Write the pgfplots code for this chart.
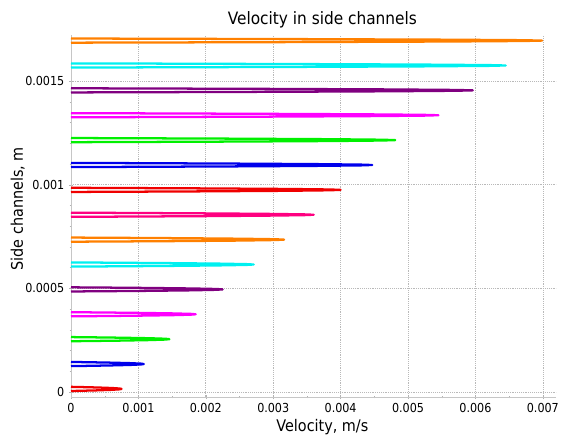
\documentclass[border=0pt]{standalone}
\usepackage{pgfplots}
\pgfplotsset{compat=1.18}
\usepackage{fontspec}
\setmainfont{DejaVu Sans Condensed}
\definecolor{cOrange}{RGB}{255,128,0}
\definecolor{cPurple}{RGB}{128,0,128}
\definecolor{cPink}{RGB}{255,0,128}
\definecolor{cGreen}{RGB}{0,240,0}
\definecolor{cBlue}{RGB}{0,0,235}
\definecolor{cCyan}{RGB}{0,240,240}
\definecolor{cMagenta}{RGB}{255,0,255}
\definecolor{cRed}{RGB}{240,0,0}
\begin{document}
\begin{tikzpicture}
\useasboundingbox (-53.25pt,-28.5pt) rectangle (374.25pt,297.75pt);
\begin{axis}[
  at={(0,0)}, anchor=south west,
  scale only axis, width=364pt, height=271.5pt,
  xmin=0, xmax=0.0072, ymin=-0.000024, ymax=0.001722,
  axis x line=bottom, axis y line=left,
  axis line style={-, gray!45},
  tick style={gray!60},
  major tick length=3pt, minor tick length=2pt,
  xtick={0,0.001,0.002,0.003,0.004,0.005,0.006,0.007},
  ytick={0,0.0005,0.001,0.0015},
  minor x tick num=1, minor y tick num=4,
  scaled ticks=false,
  xticklabel style={/pgf/number format/fixed,/pgf/number format/precision=4},
  yticklabel style={/pgf/number format/fixed,/pgf/number format/precision=4},
  /pgf/number format/assume math mode=true,
  ticklabel style={font=\fontsize{9.3}{10}\selectfont, text=black},
  grid=major,
  major grid style={densely dotted, gray!55, line width=0.5pt},
  title={Velocity in side channels},
  title style={at={(axis description cs:0.518,1)}, anchor=base, yshift=1.5pt, font=\fontsize{12.8}{14}\selectfont},
  xlabel={Velocity, m/s},
  ylabel={Side channels, m},
  every axis x label/.style={at={(axis description cs:0.518,0)}, anchor=base, yshift=-25.5pt, font=\fontsize{12}{13}\selectfont},
  every axis y label/.style={at={(axis description cs:0,0.52)}, anchor=center, rotate=90, yshift=40pt, font=\fontsize{12}{13}\selectfont},
  every axis plot/.append style={line width=1.7pt, line join=round, mark=none},
  clip=false,
]
% k=0 red
\addplot[cRed] coordinates {(0,5e-6) (0.0001425,6e-6) (0.0003825,8e-6) (0.0006,10.5e-6) (0.00072,13e-6) (0.00075,15e-6) (0.00072,17e-6) (0.0006,19.5e-6) (0.0003825,22e-6) (0.0001425,24e-6) (0,25e-6)};
% k=1 blue
\addplot[cBlue] coordinates {(0,125e-6) (0.0002052,126e-6) (0.0005508,128e-6) (0.000864,130.5e-6) (0.0010368,133e-6) (0.00108,135e-6) (0.0010368,137e-6) (0.000864,139.5e-6) (0.0005508,142e-6) (0.0002052,144e-6) (0,145e-6)};
% k=2 green
\addplot[cGreen] coordinates {(0,245e-6) (0.0002774,246e-6) (0.0007446,248e-6) (0.001168,250.5e-6) (0.0014016,253e-6) (0.00146,255e-6) (0.0014016,257e-6) (0.001168,259.5e-6) (0.0007446,262e-6) (0.0002774,264e-6) (0,265e-6)};
% k=3 magenta
\addplot[cMagenta] coordinates {(0,365e-6) (0.0003515,366e-6) (0.0009435,368e-6) (0.00148,370.5e-6) (0.001776,373e-6) (0.00185,375e-6) (0.001776,377e-6) (0.00148,379.5e-6) (0.0009435,382e-6) (0.0003515,384e-6) (0,385e-6)};
% k=4 purple
\addplot[cPurple] coordinates {(0,485e-6) (0.0004275,486e-6) (0.0011475,488e-6) (0.0018,490.5e-6) (0.00216,493e-6) (0.00225,495e-6) (0.00216,497e-6) (0.0018,499.5e-6) (0.0011475,502e-6) (0.0004275,504e-6) (0,505e-6)};
% k=5 cyan
\addplot[cCyan] coordinates {(0,605e-6) (0.0005149,606e-6) (0.0013821,608e-6) (0.002168,610.5e-6) (0.0026016,613e-6) (0.00271,615e-6) (0.0026016,617e-6) (0.002168,619.5e-6) (0.0013821,622e-6) (0.0005149,624e-6) (0,625e-6)};
% k=6 orange
\addplot[cOrange] coordinates {(0,725e-6) (0.0006004,726e-6) (0.0016116,728e-6) (0.002528,730.5e-6) (0.0030336,733e-6) (0.00316,735e-6) (0.0030336,737e-6) (0.002528,739.5e-6) (0.0016116,742e-6) (0.0006004,744e-6) (0,745e-6)};
% k=7 pink
\addplot[cPink] coordinates {(0,845e-6) (0.000684,846e-6) (0.001836,848e-6) (0.00288,850.5e-6) (0.003456,853e-6) (0.0036,855e-6) (0.003456,857e-6) (0.00288,859.5e-6) (0.001836,862e-6) (0.000684,864e-6) (0,865e-6)};
% k=8 red
\addplot[cRed] coordinates {(0,965e-6) (0.00076,966e-6) (0.00204,968e-6) (0.0032,970.5e-6) (0.00384,973e-6) (0.004,975e-6) (0.00384,977e-6) (0.0032,979.5e-6) (0.00204,982e-6) (0.00076,984e-6) (0,985e-6)};
% k=9 blue
\addplot[cBlue] coordinates {(0,1085e-6) (0.0008493,1086e-6) (0.0022797,1088e-6) (0.003576,1090.5e-6) (0.0042912,1093e-6) (0.00447,1095e-6) (0.0042912,1097e-6) (0.003576,1099.5e-6) (0.0022797,1102e-6) (0.0008493,1104e-6) (0,1105e-6)};
% k=10 green
\addplot[cGreen] coordinates {(0,1205e-6) (0.0009139,1206e-6) (0.0024531,1208e-6) (0.003848,1210.5e-6) (0.0046176,1213e-6) (0.00481,1215e-6) (0.0046176,1217e-6) (0.003848,1219.5e-6) (0.0024531,1222e-6) (0.0009139,1224e-6) (0,1225e-6)};
% k=11 magenta
\addplot[cMagenta] coordinates {(0,1325e-6) (0.0010355,1326e-6) (0.0027795,1328e-6) (0.00436,1330.5e-6) (0.005232,1333e-6) (0.00545,1335e-6) (0.005232,1337e-6) (0.00436,1339.5e-6) (0.0027795,1342e-6) (0.0010355,1344e-6) (0,1345e-6)};
% k=12 purple
\addplot[cPurple] coordinates {(0,1445e-6) (0.0011324,1446e-6) (0.0030396,1448e-6) (0.004768,1450.5e-6) (0.0057216,1453e-6) (0.00596,1455e-6) (0.0057216,1457e-6) (0.004768,1459.5e-6) (0.0030396,1462e-6) (0.0011324,1464e-6) (0,1465e-6)};
% k=13 cyan
\addplot[cCyan] coordinates {(0,1565e-6) (0.0012255,1566e-6) (0.0032895,1568e-6) (0.00516,1570.5e-6) (0.006192,1573e-6) (0.00645,1575e-6) (0.006192,1577e-6) (0.00516,1579.5e-6) (0.0032895,1582e-6) (0.0012255,1584e-6) (0,1585e-6)};
% k=14 orange
\addplot[cOrange] coordinates {(0,1685e-6) (0.0013281,1686e-6) (0.0035649,1688e-6) (0.005592,1690.5e-6) (0.0067104,1693e-6) (0.00699,1695e-6) (0.0067104,1697e-6) (0.005592,1699.5e-6) (0.0035649,1702e-6) (0.0013281,1704e-6) (0,1705e-6)};
\end{axis}
\end{tikzpicture}
\end{document}
